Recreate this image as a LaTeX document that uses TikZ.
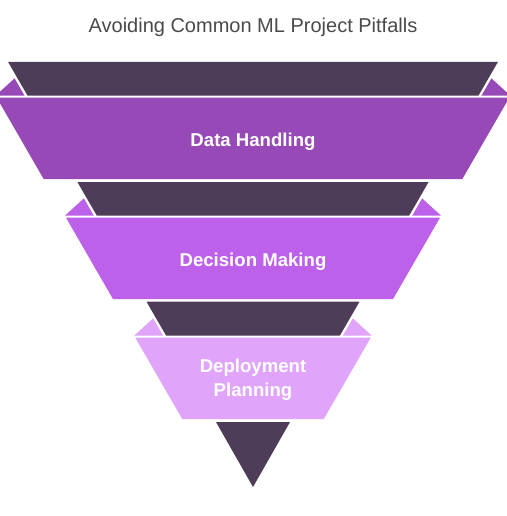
\documentclass[tikz,border=0pt]{standalone}
\usepackage{fontspec}
\setmainfont{Liberation Sans}
\definecolor{darkband}{HTML}{4E3D58}
\definecolor{purpA}{HTML}{974AB7}
\definecolor{purpB}{HTML}{BD61EA}
\definecolor{purpC}{HTML}{E0A4FB}
\definecolor{titlegray}{HTML}{4A4A4A}
\begin{document}
\begin{tikzpicture}[x=1pt,y=-1pt,
  declare function={dh(\y)=0.5774*(487-\y)-0.5; ph(\y)=dh(\y)+32;},
  darkfill/.style={fill=darkband},
  label/.style={text=white,font=\fontsize{18.6}{23.3}\selectfont\bfseries,align=center,inner sep=0pt},
  ]
\useasboundingbox (0,0) rectangle (506,516);
\fill[white] (0,0) rectangle (506,516);

% ears: #1 dark bottom y, #2 colour
\def\ears#1#2{%
  \pgfmathsetmacro\ya{#1-17.3}%
  \fill[#2] ({253-ph(#1)},#1) -- ({253-dh(\ya)-3},\ya) -- ({253-dh(#1)-3},#1) -- cycle;
  \fill[#2] ({253+ph(#1)},#1) -- ({253+dh(\ya)+3},\ya) -- ({253+dh(#1)+3},#1) -- cycle;
}
% dark band: #1 top, #2 bottom
\def\darkb#1#2{%
  \fill[darkband] ({253-dh(#1)},#1) -- ({253+dh(#1)},#1) -- ({253+dh(#2)},#2) -- ({253-dh(#2)},#2) -- cycle;
}
% purple band
\def\purpb#1#2#3{%
  \fill[#3] ({253-ph(#1)},#1) -- ({253+ph(#1)},#1) -- ({253+ph(#2)},#2) -- ({253-ph(#2)},#2) -- cycle;
}

\ears{95.7}{purpA}
\darkb{62}{95.7}
\purpb{97.7}{179}{purpA}

\ears{215.7}{purpB}
\darkb{182}{215.7}
\purpb{217.7}{299}{purpB}

\ears{335.7}{purpC}
\darkb{301.7}{335.7}
\purpb{337.7}{419}{purpC}

\fill[darkband] ({253-dh(422)},422) -- ({253+dh(422)},422) -- (253,487) -- cycle;

\node[text=titlegray,font=\fontsize{20}{24}\selectfont,anchor=base,inner sep=0pt] (title) at (253,32.3) {Avoiding Common ML Project Pitfalls};
\node[label,anchor=base] (data) at (253,146) {Data Handling};
\node[label,anchor=base] (decision) at (253,266) {Decision Making};
\node[label,anchor=base] (deploy) at (253,396) {Deployment\\Planning};
\end{tikzpicture}
\end{document}
